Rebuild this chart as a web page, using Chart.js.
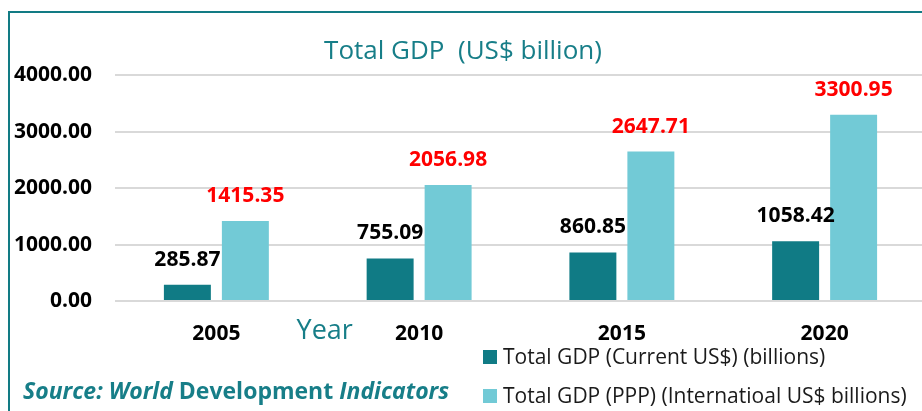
<!DOCTYPE html>
<html>
<head>
<meta charset="utf-8">
<title>Total GDP</title>
<script src="https://cdn.jsdelivr.net/npm/chart.js@4.4.1/dist/chart.umd.min.js"></script>
<style>
  html, body { margin: 0; padding: 0; background: #fff; }
  #frame { position: relative; width: 922px; height: 411px; overflow: hidden; }
  #frame:before { content: ''; position: absolute; left: 8px; top: 11px; right: -10px; bottom: -10px;
    border-left: 2px solid #127b84; border-top: 2px solid #127b84; }
  #gdpChart { position: absolute; left: 0; top: 0; }
</style>
</head>
<body>
<div id="frame">
  <canvas id="gdpChart" width="930" height="411"></canvas>
</div>
<script>
'use strict';
/* ---------------------------------------------------------------- DATA */
const years = ['2005', '2010', '2015', '2020'];
const gdpCurrent = [285.87, 755.09, 860.85, 1058.42];
const gdpPPP = [1415.35, 2056.98, 2647.71, 3300.95];
const seriesNames = ['Total GDP (Current US$) (billions)', 'Total GDP (PPP) (Internatioal US$ billions)'];
const yMin = 0;
const yMax = 4000;
const yStep = 1000;

/* ---------------------------------------------------------------- STYLE */
const teal = '#177e88';
const barColors = ['#107b85', '#72cad6'];
const valueColors = ['#000000', '#ff0000'];
const numFont = 'bold 21px "Open Sans"';

// pieces of the source line: text + font
const sourceParts = [
  ['Source: World ', 'italic bold 23px "Open Sans"'],
  ['Development ', 'bold 23px "Open Sans"'],
  ['Indicators', 'italic bold 23px "Open Sans"']
];

/* ---------------------------------------------------------------- EXTRA DRAWING */
const extrasPlugin = {
  id: 'extras',
  afterDatasetsDraw(chart) {
    const ctx = chart.ctx;
    ctx.save();

    // value labels above each bar
    ctx.font = numFont;
    ctx.textAlign = 'center';
    ctx.textBaseline = 'middle';
    chart.data.datasets.forEach((ds, i) => {
      ctx.fillStyle = valueColors[i];
      chart.getDatasetMeta(i).data.forEach((bar, j) => {
        ctx.fillText(ds.data[j].toFixed(2), bar.x, bar.y - 25);
      });
    });

    // "Year" sits between the first two categories
    const xs = chart.scales.x;
    ctx.font = '27px "Open Sans"';
    ctx.fillStyle = teal;
    ctx.fillText('Year', (xs.getPixelForValue(0) + xs.getPixelForValue(1)) / 2 + 7, 331);

    // legend, one row per series
    ctx.textAlign = 'left';
    ctx.font = '21px "Open Sans"';
    const legendY = [357, 396];
    chart.data.datasets.forEach((ds, i) => {
      ctx.fillStyle = ds.backgroundColor;
      ctx.fillRect(483, legendY[i] - 7, 14, 14);
      ctx.fillStyle = '#1a1a1a';
      ctx.fillText(ds.label, 503, legendY[i] + 1);
    });

    // source line
    let x = 23;
    ctx.fillStyle = teal;
    for (const part of sourceParts) {
      ctx.font = part[1];
      ctx.fillText(part[0], x, 392);
      x += ctx.measureText(part[0]).width;
    }
    ctx.restore();
  }
};

/* ---------------------------------------------------------------- CHART */
const gdpChart = new Chart(document.getElementById('gdpChart'), {
  type: 'bar',
  data: {
    labels: years,
    datasets: [{
      label: seriesNames[0],
      data: gdpCurrent,
      backgroundColor: barColors[0],
      categoryPercentage: 0.572,
      barPercentage: 0.81
    }, {
      label: seriesNames[1],
      data: gdpPPP,
      backgroundColor: barColors[1],
      categoryPercentage: 0.572,
      barPercentage: 0.81
    }]
  },
  options: {
    responsive: false,
    animation: false,
    layout: { padding: { left: 0, right: 4, top: 0, bottom: 70 } },
    plugins: {
      legend: { display: false },
      tooltip: { enabled: false },
      title: {
        display: true,
        text: 'Total GDP  (US$ billion)',
        color: teal,
        font: { family: 'Open Sans', size: 26, weight: 'normal' },
        padding: { top: 36, bottom: 8 }
      }
    },
    scales: {
      x: {
        grid: { display: false, drawTicks: false },
        border: { display: false },
        ticks: { color: '#000', font: { family: 'Open Sans', size: 21, weight: 'bold' }, padding: 20, maxRotation: 0 },
        afterFit(scale) { scale.height = 40; }
      },
      y: {
        min: yMin,
        max: yMax,
        grid: { color: '#d9d9d9', lineWidth: 2, drawTicks: false },
        border: { display: false },
        ticks: {
          stepSize: yStep,
          padding: 23,
          color: '#000',
          font: { family: 'Open Sans', size: 21, weight: 'bold' },
          callback: (v) => v.toFixed(2)
        },
        afterFit(scale) { scale.width = 115; }
      }
    }
  },
  plugins: [extrasPlugin]
});
</script>
</body>
</html>
